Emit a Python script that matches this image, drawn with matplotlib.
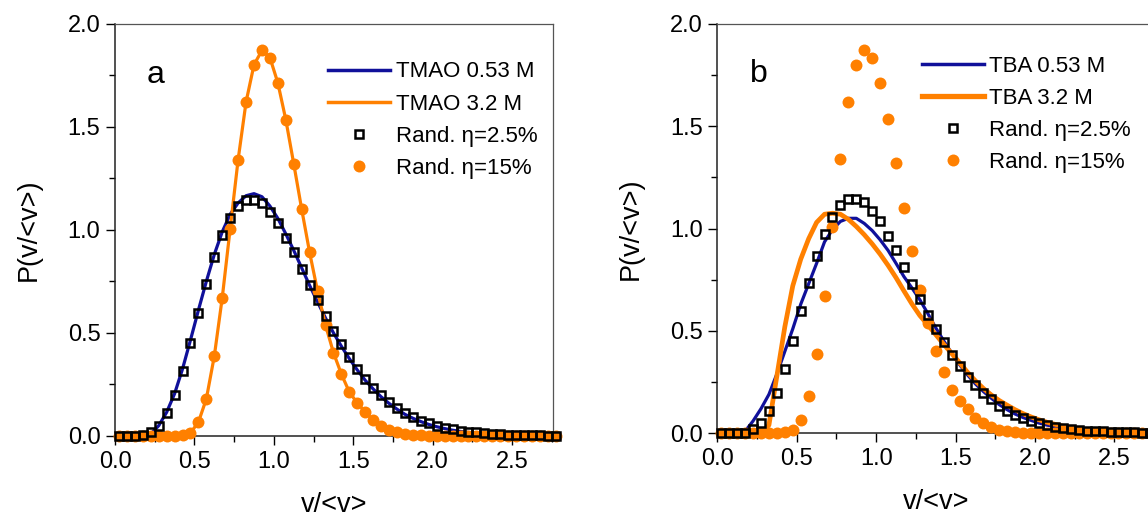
import matplotlib
matplotlib.use("Agg")
import matplotlib.pyplot as plt
from matplotlib.ticker import MultipleLocator, FormatStrFormatter
from matplotlib.lines import Line2D

plt.rcParams['font.family'] = ['Liberation Sans', 'DejaVu Sans']

# bin centres v/<v>
v_centres = [0.025 + 0.05 * k for k in range(56)]

# Random model eta = 2.5 % (open squares, both panels)
rand_2p5 = [0, 0, 0, 0.003, 0.02, 0.048, 0.11, 0.198, 0.315, 0.453,
            0.596, 0.736, 0.866, 0.974, 1.058, 1.113, 1.142, 1.142, 1.129, 1.085,
            1.035, 0.962, 0.894, 0.811, 0.73, 0.658, 0.58, 0.509, 0.445, 0.384,
            0.327, 0.276, 0.234, 0.198, 0.166, 0.134, 0.11, 0.09, 0.074, 0.061,
            0.048, 0.04, 0.032, 0.026, 0.021, 0.017, 0.013, 0.011, 0.009, 0.007,
            0.006, 0.005, 0.004, 0.003, 0.002, 0.002]

# Random model eta = 15 % (filled circles, both panels)
rand_15 = [0, 0, 0, 0, 0, 0, 0, 0.001, 0.004, 0.015,
           0.067, 0.18, 0.387, 0.67, 1.006, 1.34, 1.62, 1.80, 1.87, 1.835,
           1.712, 1.534, 1.32, 1.10, 0.89, 0.702, 0.538, 0.404, 0.30, 0.213,
           0.16, 0.117, 0.076, 0.048, 0.029, 0.017, 0.010, 0.006, 0.003, 0.002,
           0.001, 0.001, 0, 0, 0, 0, 0, 0, 0, 0,
           0, 0, 0, 0, 0, 0]

# Panel a experimental curves
tmao_053 = [0, 0, 0, 0, 0.01, 0.05, 0.115, 0.205, 0.325, 0.465,
            0.61, 0.75, 0.88, 0.99, 1.075, 1.13, 1.165, 1.175, 1.16, 1.115,
            1.055, 0.98, 0.9, 0.815, 0.73, 0.65, 0.572, 0.5, 0.435, 0.375,
            0.32, 0.27, 0.228, 0.19, 0.158, 0.13, 0.105, 0.086, 0.07, 0.056,
            0.045, 0.036, 0.028, 0.022, 0.017, 0.013, 0.01, 0.008, 0.006, 0.005,
            0.004, 0.003, 0.002, 0.002, 0.001, 0.001]
tmao_32 = [0, 0, 0, 0, 0, 0, 0, 0.001, 0.004, 0.015,
           0.067, 0.18, 0.387, 0.67, 1.006, 1.34, 1.62, 1.80, 1.87, 1.835,
           1.712, 1.534, 1.32, 1.10, 0.89, 0.702, 0.538, 0.404, 0.30, 0.213,
           0.16, 0.117, 0.076, 0.048, 0.029, 0.017, 0.010, 0.006, 0.003, 0.002,
           0.001, 0.001, 0, 0, 0, 0, 0, 0, 0, 0,
           0, 0, 0, 0, 0, 0]

# Panel b experimental curves
tba_053 = [0, 0, 0, 0.01, 0.06, 0.12, 0.19, 0.29, 0.40, 0.51,
           0.63, 0.73, 0.83, 0.935, 0.995, 1.035, 1.05, 1.05, 1.025, 0.99,
           0.945, 0.893, 0.83, 0.765, 0.71, 0.652, 0.585, 0.515, 0.452, 0.392,
           0.335, 0.285, 0.241, 0.204, 0.171, 0.14, 0.115, 0.094, 0.077, 0.063,
           0.05, 0.04, 0.032, 0.026, 0.02, 0.016, 0.012, 0.01, 0.008, 0.006,
           0.005, 0.004, 0.003, 0.002, 0.002, 0.001]
tba_32 = [0, 0, 0, 0, 0, 0, 0.04, 0.28, 0.52, 0.72,
          0.85, 0.95, 1.03, 1.07, 1.075, 1.07, 1.045, 1.01, 0.97, 0.925,
          0.875, 0.82, 0.76, 0.695, 0.632, 0.575, 0.53, 0.482, 0.435, 0.39,
          0.345, 0.298, 0.256, 0.219, 0.187, 0.16, 0.137, 0.115, 0.096, 0.08,
          0.066, 0.054, 0.044, 0.035, 0.028, 0.022, 0.017, 0.013, 0.01, 0.008,
          0.006, 0.005, 0.004, 0.003, 0.002, 0.002]

x_ticks = [0.0, 0.5, 1.0, 1.5, 2.0, 2.5]
y_ticks = [0.0, 0.5, 1.0, 1.5, 2.0]

BLUE = '#10109a'
ORANGE = '#ff8000'

fig = plt.figure(figsize=(11.48, 5.16), dpi=100)
ax_a = fig.add_axes([115 / 1148, 80 / 516, 437.7 / 1148, 412.5 / 516])
ax_b = fig.add_axes([717.3 / 1148, 82.7 / 516, 437.7 / 1148, 409.5 / 516])


def style(ax):
    ax.set_xlim(0, 2.755)
    ax.set_ylim(0, 2.0)
    ax.set_xticks(x_ticks)
    ax.set_yticks(y_ticks)
    ax.xaxis.set_minor_locator(MultipleLocator(0.25))
    ax.yaxis.set_minor_locator(MultipleLocator(0.25))
    ax.xaxis.set_major_formatter(FormatStrFormatter('%.1f'))
    ax.yaxis.set_major_formatter(FormatStrFormatter('%.1f'))
    ax.tick_params(which='major', direction='out', length=6.5, width=1.0,
                   labelsize=17, pad=4, top=False, right=False)
    ax.tick_params(which='minor', direction='out', length=4, width=1.0,
                   top=False, right=False)
    for s in ['left', 'bottom']:
        ax.spines[s].set_linewidth(1.1)
        ax.spines[s].set_color('#222222')
    for s in ['top', 'right']:
        ax.spines[s].set_linewidth(0.9)
        ax.spines[s].set_color('#555555')
    ax.set_xlabel('v/<v>', fontsize=19.5, labelpad=14)
    ax.set_ylabel('P(v/<v>)', fontsize=19.5, labelpad=19)


def legend(ax, labels, orange_lw, anchor):
    handles = [Line2D([], [], color=BLUE, lw=2.5),
               Line2D([], [], color=ORANGE, lw=orange_lw),
               Line2D([], [], ls='none', marker='s', mfc='none', mec='black', ms=6.3, mew=1.8),
               Line2D([], [], ls='none', marker='o', color=ORANGE, ms=8.6, mew=0)]
    ax.legend(handles, labels, loc='upper left', bbox_to_anchor=anchor, frameon=False,
              fontsize=16, handlelength=2.8, handletextpad=0.25, labelspacing=0.5,
              borderpad=0, borderaxespad=0)


# ---- panel a ----
ax = ax_a
ax.plot(v_centres, tmao_053, color=BLUE, lw=2.3, zorder=2)
ax.plot(v_centres, tmao_32, color=ORANGE, lw=2.3, zorder=2)
ax.plot(v_centres, rand_15, 'o', color=ORANGE, ms=8.6, mew=0, zorder=3, clip_on=False)
ax.plot(v_centres, rand_2p5, 's', mfc='none', mec='black', ms=6.3, mew=1.8, zorder=4, clip_on=False)
style(ax)
ax.text(0.072, 0.856, 'a', transform=ax.transAxes, fontsize=23)
legend(ax, ['TMAO 0.53 M', 'TMAO 3.2 M', 'Rand. η=2.5%', 'Rand. η=15%'], 2.5, (0.487, 0.908))

# ---- panel b ----
ax = ax_b
ax.plot(v_centres, tba_053, color=BLUE, lw=2.3, zorder=2)
ax.plot(v_centres, tba_32, color=ORANGE, lw=3.4, zorder=2)
ax.plot(v_centres, rand_15, 'o', color=ORANGE, ms=8.6, mew=0, zorder=3, clip_on=False)
ax.plot(v_centres, rand_2p5, 's', mfc='none', mec='black', ms=6.3, mew=1.8, zorder=4, clip_on=False)
style(ax)
ax.text(0.075, 0.858, 'b', transform=ax.transAxes, fontsize=23)
legend(ax, ['TBA 0.53 M', 'TBA 3.2 M', 'Rand. η=2.5%', 'Rand. η=15%'], 3.8, (0.467, 0.922))

fig.savefig('out.png', dpi=100)
